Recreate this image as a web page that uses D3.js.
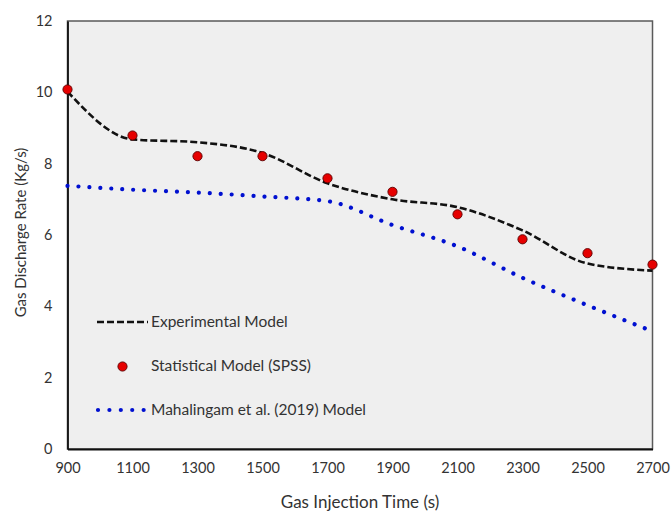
<!DOCTYPE html>
<html>
<head>
<meta charset="utf-8">
<script src="https://cdn.jsdelivr.net/npm/d3@7"></script>
<style>
  html, body { margin: 0; padding: 0; background: #fff; }
  svg text { font-family: Lato, "Open Sans", sans-serif; fill: #333; }
</style>
</head>
<body>
<svg id="chart" width="672" height="511"></svg>
<script>
// Gas injection time (s)
const injectionTime = [900, 1100, 1300, 1500, 1700, 1900, 2100, 2300, 2500, 2700];
// Gas discharge rate (kg/s) per model
const experimental = [10.02, 8.68, 8.6, 8.3, 7.45, 7.0, 6.78, 6.13, 5.2, 5.0];
const statistical  = [10.08, 8.79, 8.21, 8.21, 7.59, 7.21, 6.58, 5.88, 5.49, 5.17];
const mahalingam   = [7.38, 7.27, 7.19, 7.08, 6.95, 6.28, 5.68, 4.8, 4.03, 3.3];
const xTicks = [900, 1100, 1300, 1500, 1700, 1900, 2100, 2300, 2500, 2700];
const yTicks = [0, 2, 4, 6, 8, 10, 12];
const seriesNames = ["Experimental Model", "Statistical Model (SPSS)", "Mahalingam et al. (2019) Model"];

const svg = d3.select("#chart");
const m = { left: 67.5, right: 652.5, top: 21, bottom: 449 };

const x = d3.scaleLinear().domain([900, 2700]).range([m.left, m.right]);
const y = d3.scaleLinear().domain([0, 12]).range([m.bottom, m.top]);

// plot area
svg.append("rect")
  .attr("x", m.left).attr("y", m.top)
  .attr("width", m.right - m.left).attr("height", m.bottom - m.top)
  .attr("fill", "#efefef").attr("stroke", "#5a5a5a").attr("stroke-width", 1.5);

// axes
const xAxis = svg.append("g").attr("transform", `translate(0,${m.bottom})`)
  .call(d3.axisBottom(x).tickValues(xTicks).tickSize(0).tickPadding(14).tickFormat(d3.format("d")));
const yAxis = svg.append("g").attr("transform", `translate(${m.left},0)`)
  .call(d3.axisLeft(y).tickValues(yTicks).tickSize(0).tickPadding(15).tickFormat(d3.format("d")));
[xAxis, yAxis].forEach(g => {
  g.select(".domain").attr("stroke", "#111").attr("stroke-width", 1.8);
  g.selectAll("text").attr("font-size", 14.5).attr("fill", "#333");
});

// axis titles
svg.append("text").attr("x", (m.left + m.right) / 2).attr("y", 502).attr("dy", "0.35em")
  .attr("text-anchor", "middle").attr("font-size", 17).text("Gas Injection Time (s)");
svg.append("text").attr("transform", `translate(21,232.5) rotate(-90)`).attr("dy", "0.35em")
  .attr("text-anchor", "middle").attr("font-size", 15).text("Gas Discharge Rate (Kg/s)");

const rows = injectionTime.map((t, i) => ({ t, e: experimental[i], s: statistical[i], m: mahalingam[i] }));

// Mahalingam et al. model: blue dotted line
svg.append("path").datum(rows)
  .attr("d", d3.line().x(d => x(d.t)).y(d => y(d.m)).curve(d3.curveMonotoneX))
  .attr("fill", "none").attr("stroke", "#0010d0").attr("stroke-width", 4.2)
  .attr("stroke-linecap", "round").attr("stroke-dasharray", "0.01 10.95");

// Experimental model: black dashed line
svg.append("path").datum(rows)
  .attr("d", d3.line().x(d => x(d.t)).y(d => y(d.e)).curve(d3.curveMonotoneX))
  .attr("fill", "none").attr("stroke", "#111").attr("stroke-width", 2.6)
  .attr("stroke-dasharray", "7 3");

// Statistical model: red markers
svg.append("g").selectAll("circle").data(rows).join("circle")
  .attr("cx", d => x(d.t)).attr("cy", d => y(d.s)).attr("r", 4.6)
  .attr("fill", "#e60000").attr("stroke", "#5a0000").attr("stroke-width", 0.9);

// legend
const lg = svg.append("g");
lg.append("line").attr("x1", 97).attr("x2", 148).attr("y1", 322).attr("y2", 322)
  .attr("stroke", "#111").attr("stroke-width", 2.6).attr("stroke-dasharray", "7 3");
lg.append("circle").attr("cx", 122.5).attr("cy", 366.5).attr("r", 4.6)
  .attr("fill", "#e60000").attr("stroke", "#5a0000").attr("stroke-width", 0.9);
lg.append("line").attr("x1", 98).attr("x2", 144).attr("y1", 410).attr("y2", 410)
  .attr("stroke", "#0010d0").attr("stroke-width", 4.2)
  .attr("stroke-linecap", "round").attr("stroke-dasharray", "0.01 11.4");
[322, 366, 410].forEach((ly, i) => {
  lg.append("text").attr("x", 151).attr("y", ly).attr("dy", "0.35em")
    .attr("font-size", 15.5).text(seriesNames[i]);
});
</script>
</body>
</html>
